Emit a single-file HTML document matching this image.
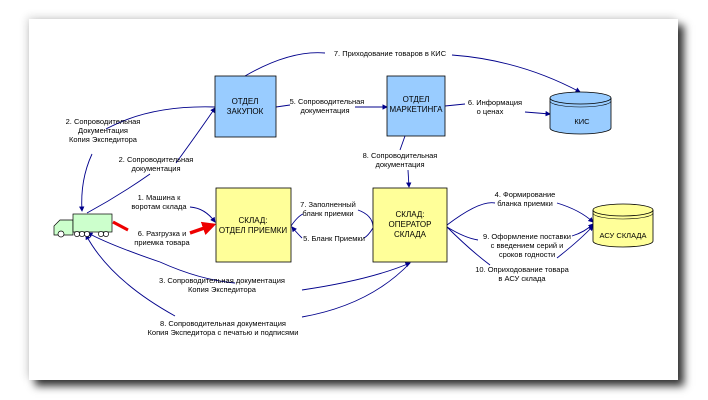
<!DOCTYPE html>
<html><head><meta charset="utf-8"><style>
html,body{margin:0;padding:0;background:#fff;width:708px;height:400px;overflow:hidden}
.card{position:absolute;left:29px;top:19px;width:649px;height:361px;background:#fff;box-shadow:6px 6px 8px rgba(0,0,0,.8),-2px -2px 8px rgba(0,0,0,.15)}
svg{position:absolute;left:0;top:0}
text{font-family:"Liberation Sans",sans-serif;font-size:7.5px;fill:#000}
.b{font-size:8px}
</style></head><body>
<div class="card"></div>
<svg width="708" height="400" viewBox="0 0 708 400">
<defs><marker id="a" markerWidth="6" markerHeight="6" refX="5" refY="3" orient="auto"><path d="M0,0L6,3L0,6z" fill="#00008b"/></marker>
<marker id="r" markerWidth="4" markerHeight="4" refX="3" refY="2" orient="auto"><path d="M0,0L4,2L0,4z" fill="#e00"/></marker></defs>
<g fill="none" stroke="#00008b" stroke-width="0.9">
<path d="M245,76 Q290,50 325,53" /><path d="M452,55 Q520,60 580,92" marker-end="url(#a)"/>
<path d="M276,107 L290,105"/><path d="M355,107 L387,107" marker-end="url(#a)"/>
<path d="M445,106 L465,104"/><path d="M525,112 L550,114" marker-end="url(#a)"/>
<path d="M92,154 Q80,180 82,211" marker-end="url(#a)"/><path d="M106,129 Q150,105 215,107"/>
<path d="M176,163 Q200,130 215,108" marker-end="url(#a)"/><path d="M150,174 Q120,195 87,213"/>
<path d="M405,136 L400,150"/><path d="M408,170 L409,187" marker-end="url(#a)"/>
<path d="M190,207 Q205,208 215,222" marker-end="url(#a)"/>
<path d="M358,210 Q372,215 373,226"/>
<path d="M291,226 Q298,216 303,214"/>
<path d="M373,228 Q368,236 364,238"/>
<path d="M302,238 Q296,232 292,227" marker-end="url(#a)"/>
<path d="M302,290 Q370,280 410,263" marker-end="url(#a)"/><path d="M160,262 Q200,280 235,283"/><path d="M160,262 Q110,245 88,233" marker-end="url(#a)"/>
<path d="M302,317 Q370,305 410,263"/><path d="M175,316 Q110,280 86,235" marker-end="url(#a)"/>
<path d="M447,225 Q480,200 495,203"/><path d="M557,203 Q580,210 593,222" marker-end="url(#a)"/>
<path d="M447,227 Q465,238 478,240"/><path d="M572,236 Q585,232 593,224" marker-end="url(#a)"/>
<path d="M447,227 Q470,250 490,265"/><path d="M557,258 Q580,240 593,226" marker-end="url(#a)"/>
</g>
<path d="M113,222 L128,230" stroke="#e00" stroke-width="3"/>
<path d="M190,233 L213,225" stroke="#e00" stroke-width="3.5" marker-end="url(#r)"/>
<rect x="215" y="76" width="61" height="61" fill="#99ccff" stroke="#000" stroke-width=".8"/>
<rect x="387" y="76" width="58" height="60" fill="#99ccff" stroke="#000" stroke-width=".8"/>
<rect x="216" y="188" width="75" height="74" fill="#ffff99" stroke="#000" stroke-width=".8"/>
<rect x="373" y="188" width="74" height="74" fill="#ffff99" stroke="#000" stroke-width=".8"/>
<path d="M550,98 V128 A30.5,6 0 0 0 611,128 V98" fill="#99ccff" stroke="#000" stroke-width=".8"/>
<ellipse cx="580.5" cy="98" rx="30.5" ry="6" fill="#99ccff" stroke="#000" stroke-width=".8"/>
<path d="M550,101 A30.5,6 0 0 0 611,101" fill="none" stroke="#000" stroke-width=".6"/>
<path d="M593,210 V241 A30,6 0 0 0 653,241 V210" fill="#ffff99" stroke="#000" stroke-width=".8"/>
<ellipse cx="623" cy="210" rx="30" ry="6" fill="#ffff99" stroke="#000" stroke-width=".8"/>
<path d="M593,213 A30,6 0 0 0 653,213" fill="none" stroke="#000" stroke-width=".6"/>
<g stroke="#000" stroke-width=".7" fill="#ccffcc">
<path d="M54,235 V226 L60,220 H73 V235 Z"/><rect x="73" y="214" width="39" height="18"/>
<g fill="#fff"><circle cx="61" cy="234" r="3"/><circle cx="77" cy="234" r="2.6"/><circle cx="82" cy="234" r="2.6"/><circle cx="87" cy="234" r="2.6"/><circle cx="101" cy="234" r="2.6"/><circle cx="106" cy="234" r="2.6"/></g></g>
<g text-anchor="middle">
<text x="245" y="104" class="b">ОТДЕЛ</text><text x="245" y="114" class="b">ЗАКУПОК</text>
<text x="416" y="102" class="b">ОТДЕЛ</text><text x="416" y="112" class="b">МАРКЕТИНГА</text>
<text x="582" y="124">КИС</text>
<text x="253" y="223" class="b">СКЛАД:</text><text x="253" y="233" class="b">ОТДЕЛ ПРИЕМКИ</text>
<text x="410" y="217" class="b">СКЛАД:</text><text x="410" y="227" class="b">ОПЕРАТОР</text><text x="410" y="237" class="b">СКЛАДА</text>
<text x="623" y="238">АСУ СКЛАДА</text>
<text x="390" y="56">7. Приходование товаров в КИС</text>
<text x="327" y="104">5. Сопроводительная</text><text x="325" y="113">документация</text>
<text x="495" y="105">6. Информация</text><text x="490" y="114">о ценах</text>
<text x="400" y="158">8. Сопроводительная</text><text x="400" y="167">документация</text>
<text x="103" y="124">2. Сопроводительная</text><text x="103" y="133">Документация</text><text x="103" y="142">Копия Экспедитора</text>
<text x="156" y="162">2. Сопроводительная</text><text x="156" y="171">документация</text>
<text x="159" y="200">1. Машина к</text><text x="159" y="209">воротам склада</text>
<text x="162" y="236">6. Разгрузка и</text><text x="162" y="245">приемка товара</text>
<text x="328" y="207">7. Заполненный</text><text x="328" y="216">бланк приемки</text>
<text x="334" y="241">5. Бланк Приемки</text>
<text x="222" y="283">3. Сопроводительная документация</text><text x="222" y="292">Копия Экспедитора</text>
<text x="223" y="326">8. Сопроводительная документация</text><text x="223" y="335">Копия Экспедитора с печатью и подписями</text>
<text x="525" y="197">4. Формирование</text><text x="525" y="206">бланка приемки</text>
<text x="527" y="239">9. Оформление поставки</text><text x="527" y="248">с введением серий и</text><text x="527" y="257">сроков годности</text>
<text x="522" y="272">10. Оприходование товара</text><text x="522" y="281">в АСУ склада</text>
</g>
</svg>
</body></html>
